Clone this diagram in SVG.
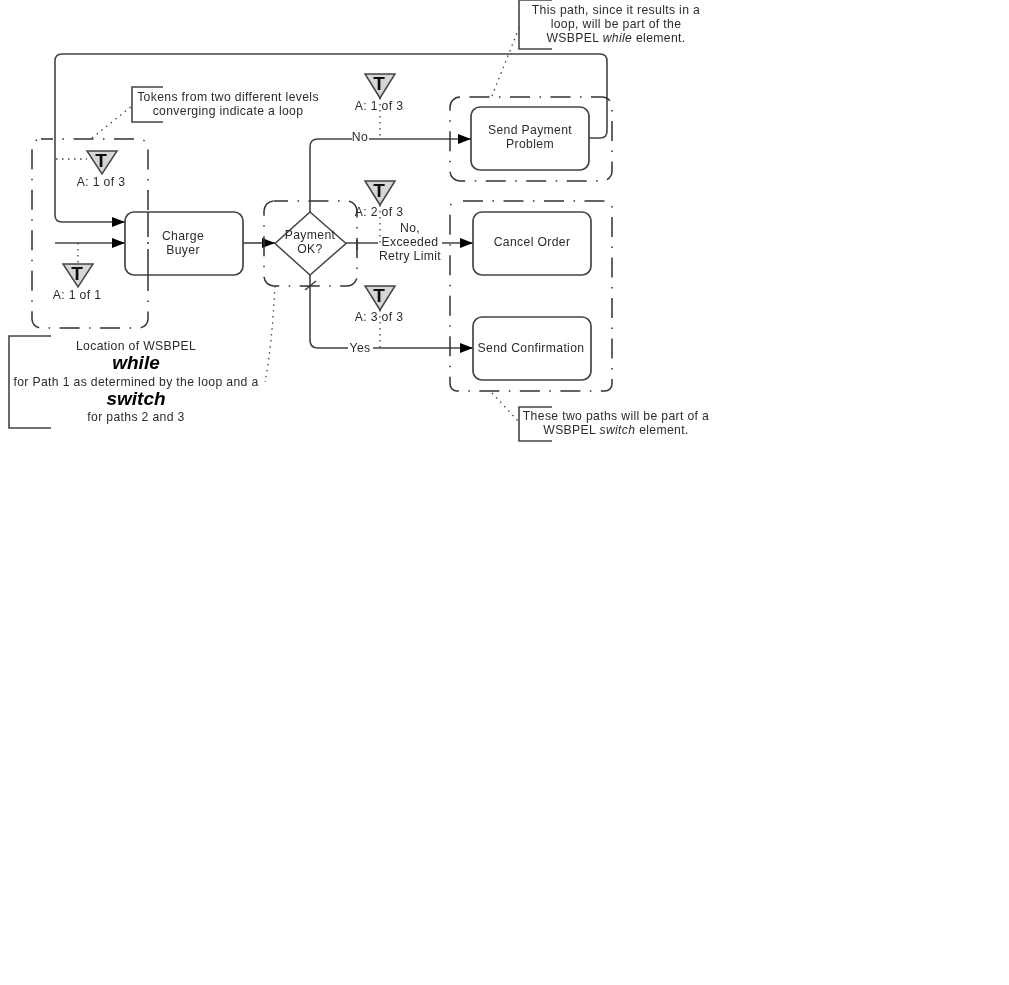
<svg xmlns="http://www.w3.org/2000/svg" width="1009" height="985" viewBox="0 0 1009 985">
<style>
text{font-family:"Liberation Sans",Arial,sans-serif;font-size:12.200px;letter-spacing:.35px;fill:#2c2c2c;text-anchor:middle}
.big{font-size:19px;letter-spacing:0;font-weight:bold;font-style:italic;fill:#000}
.box{fill:#fff;stroke:#444;stroke-width:1.7}
.flow{fill:none;stroke:#444;stroke-width:1.6}
.grp{fill:none;stroke:#333;stroke-width:1.5;stroke-dasharray:20 9.500 1.500 9.500}
.dot{fill:none;stroke:#444;stroke-width:1.3;stroke-dasharray:1.500 4.500}
.note{fill:none;stroke:#444;stroke-width:1.6}
.tok{fill:#d6d6d6;stroke:#444;stroke-width:1.5}
.t{font-size:19px;letter-spacing:0;font-weight:bold;fill:#111}
</style>
<defs>
<filter id="soft" x="0" y="0" width="100%" height="100%" filterUnits="userSpaceOnUse"><feGaussianBlur stdDeviation="0.4"/></filter>
<marker id="arr" markerUnits="userSpaceOnUse" markerWidth="14" markerHeight="11" refX="13" refY="5" orient="auto"><path d="M0 0L13 5L0 10Z" fill="#000"/></marker>
</defs>
<rect width="1009" height="985" fill="#fff"/>
<g filter="url(#soft)">
<g id="connectors">
<path class="flow" d="M589 138H600Q607 138 607 131V61Q607 54 600 54H62Q55 54 55 61V215Q55 222 62 222H125" marker-end="url(#arr)"/>
<path class="flow" d="M55 243H125" marker-end="url(#arr)"/>
<path class="flow" d="M243 243H275" marker-end="url(#arr)"/>
<path class="flow" d="M310 212V147Q310 139 318 139H352M369 139H471" marker-end="url(#arr)"/>
<path class="flow" d="M346 243H378M442 243H473" marker-end="url(#arr)"/>
<path class="flow" d="M310 275V340Q310 348 318 348H348M373 348H473" marker-end="url(#arr)"/>
<path class="flow" d="M305 290L316 281" stroke-width="1"/>
<path class="flow" d="M357 240V250" stroke-width="1"/>
</g>
<g id="groups">
<rect class="grp" x="32" y="139" width="116" height="189" rx="9" stroke-dashoffset="8"/>
<rect class="grp" x="264" y="201" width="93" height="85" rx="10" stroke-dashoffset="6"/>
<rect class="grp" x="450" y="97" width="162" height="84" rx="10" stroke-dashoffset="31"/>
<rect class="grp" x="450" y="201" width="162" height="190" rx="7" stroke-dashoffset="34.500"/>
</g>
<g id="associations">
<path class="dot" d="M92 138L132 106"/>
<path class="dot" d="M56 159H87"/>
<path class="dot" d="M78 243V264"/>
<path class="dot" d="M380 98V139"/>
<path class="dot" d="M380 205V243"/>
<path class="dot" d="M380 310V348"/>
<path class="dot" d="M275 286Q272 345 265 382"/>
<path class="dot" d="M492 96L519 28"/>
<path class="dot" d="M492 393L519 422"/>
</g>
<g id="charge-buyer"><rect class="box" x="125" y="212" width="118" height="63" rx="9"/><path d="M148 212V237M148 242V244M148 249V275" stroke="#333" stroke-width="1.500" fill="none"/><text x="183" y="240">Charge</text><text x="183" y="254">Buyer</text></g>
<g id="payment-ok"><path d="M310 212L346 243.500L310 275L275 243.500Z" fill="none" stroke="#444" stroke-width="1.500"/><text x="310" y="239">Payment</text><text x="310" y="253">OK?</text></g>
<g id="send-payment-problem"><rect class="box" x="471" y="107" width="118" height="63" rx="9"/><text x="530" y="134">Send Payment</text><text x="530" y="148">Problem</text></g>
<g id="cancel-order"><rect class="box" x="473" y="212" width="118" height="63" rx="9"/><text x="532" y="246">Cancel Order</text></g>
<g id="send-confirmation"><rect class="box" x="473" y="317" width="118" height="63" rx="9"/><text x="531" y="352">Send Confirmation</text></g>
<g id="token-1"><path class="tok" d="M87 151H117L102 174Z"/><text class="t" x="101" y="167">T</text><text x="101" y="186">A: 1 of 3</text></g>
<g id="token-2"><path class="tok" d="M63 264H93L78 287Z"/><text class="t" x="77" y="280">T</text><text x="77" y="299">A: 1 of 1</text></g>
<g id="token-3"><path class="tok" d="M365 74H395L380 98Z"/><text class="t" x="379" y="90">T</text><text x="379" y="110">A: 1 of 3</text></g>
<g id="token-4"><path class="tok" d="M365 181H395L380 205Z"/><text class="t" x="379" y="197">T</text><text x="379" y="216">A: 2 of 3</text></g>
<g id="token-5"><path class="tok" d="M365 286H395L380 310Z"/><text class="t" x="379" y="302">T</text><text x="379" y="321">A: 3 of 3</text></g>
<g id="flow-labels">
<text x="360" y="141">No</text>
<text x="410" y="232">No,</text>
<text x="410" y="246">Exceeded</text>
<text x="410" y="260">Retry Limit</text>
<text x="360" y="352">Yes</text>
</g>
<g id="note-tokens"><path class="note" d="M163 87H132V122H163"/><text x="228" y="101">Tokens from two different levels</text><text x="228" y="115">converging indicate a loop</text></g>
<g id="note-while"><path class="note" d="M552 0H519V49H552"/><text x="616" y="14">This path, since it results in a</text><text x="616" y="28">loop, will be part of the</text><text x="616" y="42">WSBPEL <tspan font-style="italic">while</tspan> element.</text></g>
<g id="note-switch"><path class="note" d="M552 407H519V441H552"/><text x="616" y="420">These two paths will be part of a</text><text x="616" y="434">WSBPEL <tspan font-style="italic">switch</tspan> element.</text></g>
<g id="note-location"><path class="note" d="M51 336H9V428H51"/><text x="136" y="350">Location of WSBPEL</text><text class="big" x="136" y="369">while</text><text x="136" y="386">for Path 1 as determined by the loop and a</text><text class="big" x="136" y="405">switch</text><text x="136" y="421">for paths 2 and 3</text></g>
</g>
</svg>
